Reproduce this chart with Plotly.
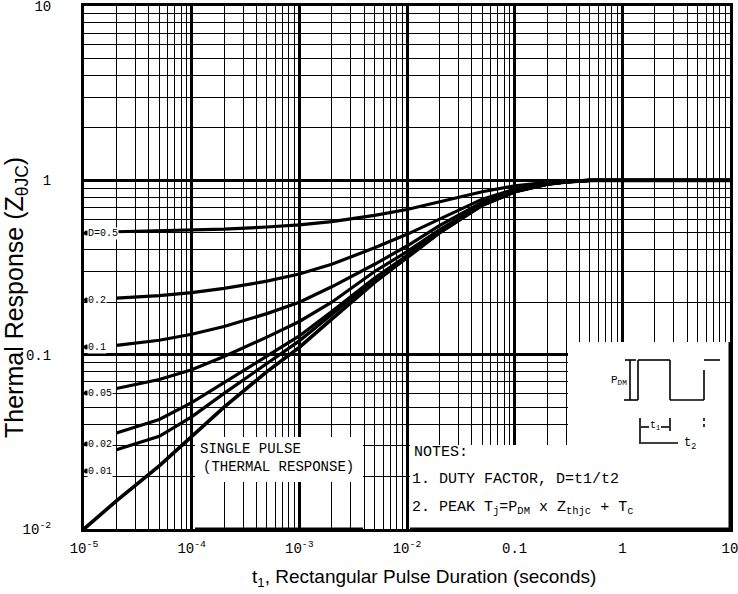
import plotly.graph_objects as go

# ---------------- data ----------------
T_SINGLE = [1e-5, 2e-5, 5e-5, 1e-4, 2e-4, 5e-4, 1e-3, 2e-3, 5e-3, 1e-2, 2e-2, 5e-2, 0.1, 0.2, 0.3, 0.5, 1, 10]
Z_SINGLE = [0.010, 0.0145, 0.023, 0.034, 0.050, 0.080, 0.110, 0.160, 0.260, 0.360, 0.500, 0.720, 0.860, 0.950, 0.980, 1.0, 1.0, 1.0]

T_D = [2e-5, 5e-5, 1e-4, 2e-4, 5e-4, 1e-3, 2e-3, 5e-3, 1e-2, 2e-2, 5e-2, 0.1, 0.2, 0.3, 0.5, 1, 10]
Z_D050 = [0.507, 0.512, 0.517, 0.525, 0.540, 0.555, 0.580, 0.630, 0.680, 0.750, 0.860, 0.930, 0.975, 0.990, 1.0, 1.0, 1.0]
Z_D020 = [0.211, 0.218, 0.227, 0.240, 0.264, 0.290, 0.330, 0.410, 0.490, 0.600, 0.780, 0.890, 0.960, 0.985, 1.0, 1.0, 1.0]
Z_D010 = [0.113, 0.121, 0.131, 0.145, 0.172, 0.200, 0.245, 0.330, 0.420, 0.550, 0.750, 0.870, 0.955, 0.980, 1.0, 1.0, 1.0]
Z_D005 = [0.064, 0.072, 0.082, 0.0975, 0.126, 0.155, 0.200, 0.300, 0.390, 0.520, 0.730, 0.870, 0.950, 0.980, 1.0, 1.0, 1.0]
Z_D002 = [0.0355, 0.0425, 0.053, 0.069, 0.098, 0.128, 0.177, 0.275, 0.370, 0.510, 0.720, 0.860, 0.950, 0.980, 1.0, 1.0, 1.0]
Z_D001 = [0.0285, 0.034, 0.044, 0.060, 0.089, 0.120, 0.170, 0.270, 0.365, 0.500, 0.720, 0.860, 0.950, 0.980, 1.0, 1.0, 1.0]

D_LABELS = ["D=0.5", "0.2", "0.1", "0.05", "0.02", "0.01"]
D_SERIES = [Z_D050, Z_D020, Z_D010, Z_D005, Z_D002, Z_D001]

X_TICKVALS = [1e-5, 1e-4, 1e-3, 1e-2, 0.1, 1, 10]
X_TICKTEXT = ["10<sup>-5</sup>", "10<sup>-4</sup>", "10<sup>-3</sup>", "10<sup>-2</sup>", "0.1", "1", "10"]
Y_TICKVALS = [0.01, 0.1, 1, 10]
Y_TICKTEXT = ["10<sup>-2</sup>", "0.1", "1", "10"]

# ---------------- layout helpers ----------------
W, H = 738, 594
L, R, T, B = 84, 730, 6, 529


def px(x):
    return (x - L) / (R - L)


def py(y):
    return (B - y) / (B - T)


fig = go.Figure()

for z in D_SERIES:
    fig.add_trace(go.Scatter(x=T_D, y=z, mode="lines",
                             line=dict(color="black", width=3.2), showlegend=False,
                             hoverinfo="skip"))
fig.add_trace(go.Scatter(x=T_SINGLE, y=Z_SINGLE, mode="lines",
                         line=dict(color="black", width=3.6), showlegend=False,
                         hoverinfo="skip"))

minor_x = [k * 10.0 ** e for e in range(-5, 1) for k in range(2, 10)]
minor_y = [k * 10.0 ** e for e in range(-2, 1) for k in range(2, 10)]

tickfont = dict(family="Liberation Mono", size=14, color="black")

fig.update_xaxes(type="log", range=[-5, 1], tickmode="array",
                 tickvals=X_TICKVALS, ticktext=X_TICKTEXT, tickfont=tickfont,
                 showgrid=True, gridcolor="black", gridwidth=2.6,
                 minor=dict(tickmode="array", tickvals=minor_x, showgrid=True,
                            gridcolor="black", gridwidth=1.3, ticks=""),
                 showline=True, linecolor="black", linewidth=3, mirror=True,
                 ticks="", zeroline=False, automargin=False, ticklabelstandoff=4,
                 ticklabeloverflow="allow")
fig.update_yaxes(type="log", range=[-2, 1], tickmode="array",
                 tickvals=Y_TICKVALS, ticktext=Y_TICKTEXT, tickfont=tickfont,
                 showgrid=True, gridcolor="black", gridwidth=2.6,
                 minor=dict(tickmode="array", tickvals=minor_y, showgrid=True,
                            gridcolor="black", gridwidth=1.3, ticks=""),
                 showline=True, linecolor="black", linewidth=3, mirror=True,
                 ticks="", zeroline=False, automargin=False, ticklabelstandoff=27,
                 ticklabeloverflow="allow")

shapes = []
# white boxes hiding the grid behind the notes
for x0, x1, y0, y1 in [(195, 363, 482, 437), (410, 730, 529, 445), (568, 730, 529, 342)]:
    shapes.append(dict(type="rect", xref="paper", yref="paper", layer="above",
                       x0=px(x0), x1=px(x1), y0=py(y0), y1=py(y1),
                       fillcolor="white", line=dict(width=0)))


def seg(x0, y0, x1, y1, w=1.6, dash="solid"):
    shapes.append(dict(type="line", xref="paper", yref="paper", layer="above",
                       x0=px(x0), y0=py(y0), x1=px(x1), y1=py(y1),
                       line=dict(color="black", width=w, dash=dash)))


# redraw the frame pieces covered by the white boxes
seg(730, 342, 730, 529, w=3)
seg(410, 529, 730, 529, w=3)
seg(195, 529, 363, 529, w=3)

# pulse waveform
seg(638, 360, 670, 360)
seg(638, 360, 638, 400)
seg(624, 400, 638, 400)
seg(670, 360, 670, 400)
seg(670, 400, 704, 400)
seg(704, 370, 704, 400)
seg(704, 360, 720, 360)
# PDM bracket
seg(625, 360, 636, 360)
seg(630, 360, 630, 400)
# t1 / t2 arrows
seg(640, 418, 640, 444)
seg(670, 418, 670, 431)
seg(704, 418, 704, 428, dash="dot")
seg(641, 427, 649, 427)
seg(661, 427, 669, 427)
seg(641, 443, 678, 443)

annos = []
lab_font = dict(family="Liberation Mono", size=10, color="black")
for text, y in zip(D_LABELS, [233, 300, 347, 393, 444, 471]):
    annos.append(dict(xref="paper", yref="paper", x=px(87), y=py(y), text=text,
                      showarrow=False, xanchor="left", yanchor="middle",
                      font=lab_font, bgcolor="white", borderpad=0))
    shapes.append(dict(type="circle", xref="paper", yref="paper", layer="above",
                       x0=px(84), x1=px(89), y0=py(y + 2.5), y1=py(y - 2.5),
                       fillcolor="black", line=dict(width=0)))

sp_font = dict(family="Liberation Mono", size=14, color="black")
note_font = dict(family="Liberation Mono", size=15, color="black")
annos += [
    dict(xref="paper", yref="paper", x=px(198), y=py(449), text="SINGLE PULSE",
         showarrow=False, xanchor="left", yanchor="middle", font=sp_font),
    dict(xref="paper", yref="paper", x=px(201), y=py(467), text="(THERMAL RESPONSE)",
         showarrow=False, xanchor="left", yanchor="middle", font=sp_font),
    dict(xref="paper", yref="paper", x=px(412), y=py(452), text="NOTES:",
         showarrow=False, xanchor="left", yanchor="middle", font=note_font),
    dict(xref="paper", yref="paper", x=px(410), y=py(480), text="1. DUTY FACTOR, D=t1/t2",
         showarrow=False, xanchor="left", yanchor="middle", font=note_font),
    dict(xref="paper", yref="paper", x=px(410), y=py(508),
         text="2. PEAK T<sub>j</sub>=P<sub>DM</sub> x Z<sub>thjc</sub> + T<sub>c</sub>",
         showarrow=False, xanchor="left", yanchor="middle", font=note_font),
    dict(xref="paper", yref="paper", x=px(619), y=py(380), text="P<sub>DM</sub>",
         showarrow=False, xanchor="center", yanchor="middle",
         font=dict(family="Liberation Mono", size=11, color="black"), bgcolor="white"),
    dict(xref="paper", yref="paper", x=px(655), y=py(426), text="t<sub>1</sub>",
         showarrow=False, xanchor="center", yanchor="middle",
         font=dict(family="Liberation Mono", size=10, color="black")),
    dict(xref="paper", yref="paper", x=px(690), y=py(444), text="t<sub>2</sub>",
         showarrow=False, xanchor="center", yanchor="middle",
         font=dict(family="Liberation Mono", size=12, color="black")),
    # axis titles
    dict(xref="paper", yref="paper", x=px(424), y=py(578),
         text="t<sub>1</sub>, Rectangular Pulse Duration (seconds)",
         showarrow=False, xanchor="center", yanchor="middle",
         font=dict(family="Liberation Sans", size=19, color="black")),
    dict(xref="paper", yref="paper", x=px(16), y=py(298), textangle=-90,
         text="Thermal Response (Z<sub>θJC</sub>)",
         showarrow=False, xanchor="center", yanchor="middle",
         font=dict(family="Liberation Sans", size=25, color="black")),
]

fig.update_layout(shapes=shapes, annotations=annos,
                  width=W, height=H, autosize=False,
                  margin=dict(l=L, r=W - R, t=T, b=H - B),
                  paper_bgcolor="white", plot_bgcolor="white",
                  showlegend=False)

fig.write_html("out.html", config={"displayModeBar": False},
               post_script="document.body.style.margin='0px';document.body.style.padding='0px';")
